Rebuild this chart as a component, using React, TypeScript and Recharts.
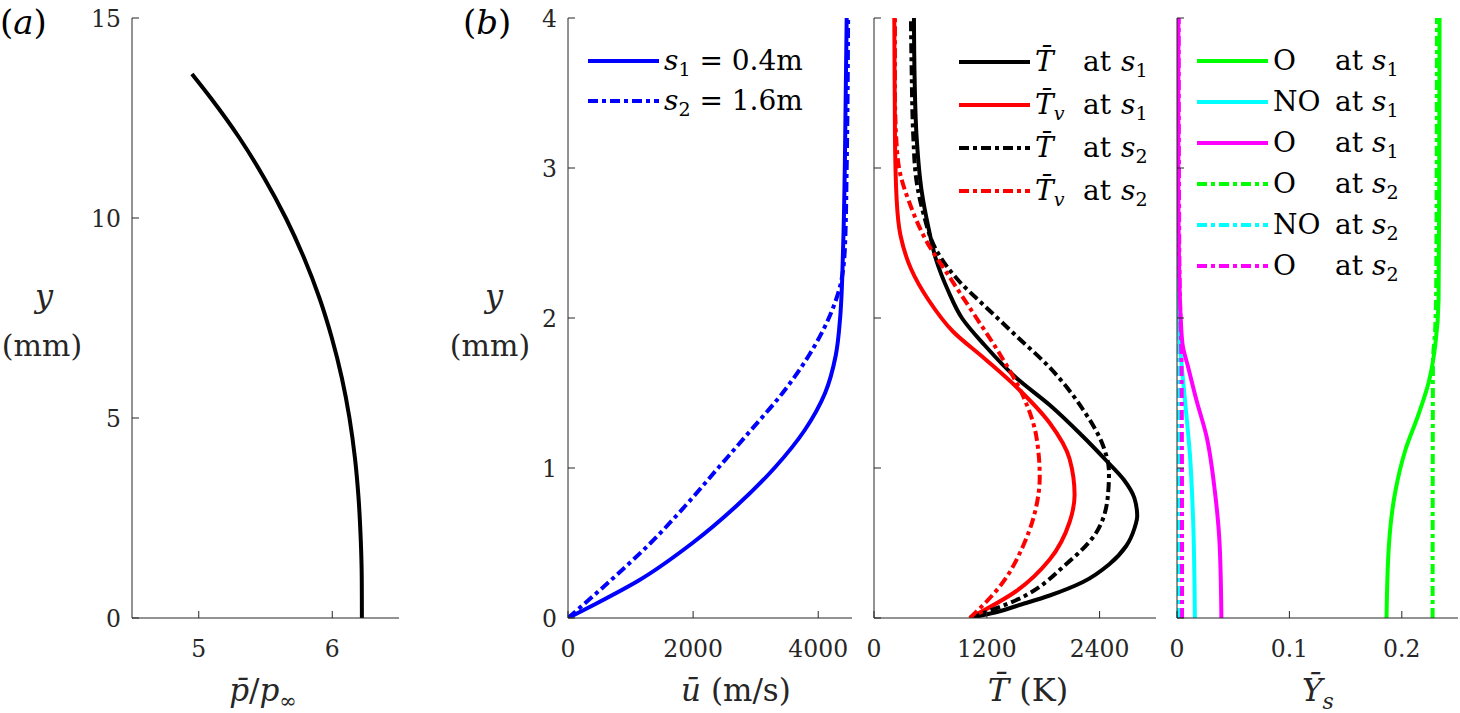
import React from 'react';
import { LineChart, Line, XAxis, YAxis, Legend } from 'recharts';

const FONT = '"DejaVu Serif", serif';
const AXIS = '#262626';
const TICK = 7;
const DASHDOT = '10 4 4 4';
const TICK_FS = 23.5;

// ---------- Panel (a): pressure ratio vs y ----------
const pressureY = [0, 1, 2, 3, 4, 5, 6, 7, 8, 9, 10, 11, 12, 13, 13.6];
const pressureRatio = [6.222, 6.221, 6.213, 6.197, 6.17, 6.129, 6.072, 5.997, 5.904, 5.789, 5.652, 5.49, 5.305, 5.09, 4.949];

// ---------- Panel (b1): velocity ----------
const uS1Y = [0, 0.1, 0.25, 0.5, 0.75, 1.0, 1.25, 1.5, 1.75, 2.0, 2.5, 3.0, 4.0];
const uS1 = [0, 470, 1130, 1990, 2700, 3300, 3780, 4110, 4280, 4350, 4400, 4425, 4455];
const uS2Y = [0, 0.25, 0.5, 0.75, 1.0, 1.25, 1.5, 1.75, 2.0, 2.25, 2.5, 3.0, 4.0];
const uS2 = [0, 680, 1320, 1880, 2400, 2920, 3430, 3850, 4170, 4370, 4430, 4455, 4478];

// ---------- Panel (b2): temperatures ----------
const tS1Y = [0, 0.045, 0.08, 0.15, 0.24, 0.36, 0.48, 0.6, 0.68, 0.8, 0.92, 1.05, 1.21, 1.42, 1.6, 1.82, 2.0, 2.18, 2.39, 2.6, 2.85, 3.21, 3.6, 4.0];
const tS1 = [1020, 1338, 1515, 1869, 2223, 2506, 2683, 2772, 2800, 2770, 2660, 2470, 2223, 1869, 1515, 1175, 935, 790, 660, 580, 506, 453, 432, 425];
const tvS1Y = [0, 0.18, 0.39, 0.64, 0.82, 1.06, 1.3, 1.54, 1.73, 1.91, 2.12, 2.33, 2.55, 2.79, 3.21, 4.0];
const tvS1 = [1020, 1515, 1869, 2081, 2134, 2081, 1869, 1515, 1175, 840, 580, 392, 282, 241, 223, 216];
const tS2Y = [0, 0.12, 0.36, 0.57, 0.82, 0.97, 1.15, 1.39, 1.67, 1.88, 2.09, 2.24, 2.45, 2.7, 2.91, 3.21, 3.67, 4.0];
const tS2 = [1020, 1515, 2046, 2365, 2489, 2500, 2436, 2223, 1869, 1515, 1161, 913, 665, 524, 453, 418, 400, 393];
const tvS2Y = [0, 0.21, 0.48, 0.7, 0.94, 1.21, 1.48, 1.76, 2.0, 2.27, 2.51, 2.76, 2.97, 3.15, 3.51, 4.0];
const tvS2 = [1020, 1338, 1586, 1710, 1763, 1727, 1586, 1338, 1090, 807, 560, 382, 276, 241, 223, 223];

// ---------- Panel (b3): mass fractions ----------
const oS1Y = [0, 0.48, 0.85, 1.12, 1.36, 1.57, 1.82, 2.12, 2.91, 4.0];
const oS1 = [0.1864, 0.1885, 0.1944, 0.2032, 0.215, 0.2239, 0.2298, 0.2327, 0.2333, 0.2336];
const noS1Y = [0, 0.64, 1.09, 1.45, 1.76, 2.0, 2.3, 3.0, 4.0];
const noS1 = [0.0159, 0.0144, 0.0115, 0.0071, 0.0033, 0.0012, 0.0003, 0.0001, 0.0001];
const o2S1Y = [0, 0.48, 0.85, 1.21, 1.45, 1.67, 1.82, 2.0, 2.3, 2.91, 4.0];
const o2S1 = [0.0395, 0.038, 0.0336, 0.0263, 0.0174, 0.01, 0.005, 0.0033, 0.002, 0.0012, 0.0012];
const oS2Y = [0, 1.7, 1.94, 2.3, 4.0];
const oS2 = [0.2274, 0.2277, 0.2298, 0.2307, 0.2313];
const noS2Y = [0, 1.0, 1.8, 2.2, 4.0];
const noS2 = [0.0012, 0.0012, 0.001, 0.0004, 0.0001];
const o2S2Y = [0, 1.0, 1.7, 2.0, 2.5, 4.0];
const o2S2 = [0.0045, 0.0044, 0.004, 0.003, 0.002, 0.0015];

// ---------- axes ----------
const yTicksA = [0, 5, 10, 15];
const xTicksA = [5, 6];
const yTicksB = [0, 1, 2, 3, 4];
const xTicksU = [0, 2000, 4000];
const xTicksT = [0, 1200, 2400];
const xTicksY = [0, 0.1, 0.2];

const toPoints = (xs: number[], ys: number[]) => xs.map((x, i) => ({ x, y: ys[i] }));

type Series = { name: string; xs: number[]; ys: number[]; color: string; dashed: boolean; label?: React.ReactNode };

const Sub = ({ children, italic }: { children: React.ReactNode; italic?: boolean }) => (
  <span style={{ fontSize: '0.68em', position: 'relative', top: '0.32em', fontStyle: italic ? 'italic' : 'normal' }}>{children}</span>
);
const SS = ({ n }: { n: string }) => (
  <span><i>s</i><Sub>{n}</Sub></span>
);
const Col = ({ w, children }: { w: number; children: React.ReactNode }) => (
  <span style={{ display: 'inline-block', width: w }}>{children}</span>
);

const seriesA: Series[] = [
  { name: 'p', xs: pressureRatio, ys: pressureY, color: '#000000', dashed: false },
];

const seriesU: Series[] = [
  { name: 's1 = 0.4m', xs: uS1, ys: uS1Y, color: '#0000ff', dashed: false,
    label: <span><SS n="1" /><span>&nbsp;=&nbsp;0.4m</span></span> },
  { name: 's2 = 1.6m', xs: uS2, ys: uS2Y, color: '#0000ff', dashed: true,
    label: <span><SS n="2" /><span>&nbsp;=&nbsp;1.6m</span></span> },
];

const TBar = () => <i>T&#x0304;</i>;
const TvBar = () => <i>T&#x0304;<Sub italic>v</Sub></i>;

const seriesT: Series[] = [
  { name: 'T at s1', xs: tS1, ys: tS1Y, color: '#000000', dashed: false,
    label: <span><Col w={48}><TBar /></Col><Col w={38}>at</Col><SS n="1" /></span> },
  { name: 'Tv at s1', xs: tvS1, ys: tvS1Y, color: '#ff0000', dashed: false,
    label: <span><Col w={48}><TvBar /></Col><Col w={38}>at</Col><SS n="1" /></span> },
  { name: 'T at s2', xs: tS2, ys: tS2Y, color: '#000000', dashed: true,
    label: <span><Col w={48}><TBar /></Col><Col w={38}>at</Col><SS n="2" /></span> },
  { name: 'Tv at s2', xs: tvS2, ys: tvS2Y, color: '#ff0000', dashed: true,
    label: <span><Col w={48}><TvBar /></Col><Col w={38}>at</Col><SS n="2" /></span> },
];

const spLabel = (sp: string, n: string) => (
  <span><Col w={62}>{sp}</Col><Col w={37}>at</Col><SS n={n} /></span>
);

const seriesY: Series[] = [
  { name: 'O at s1', xs: oS1, ys: oS1Y, color: '#00ff00', dashed: false, label: spLabel('O', '1') },
  { name: 'NO at s1', xs: noS1, ys: noS1Y, color: '#00ffff', dashed: false, label: spLabel('NO', '1') },
  { name: 'O at s1 ', xs: o2S1, ys: o2S1Y, color: '#ff00ff', dashed: false, label: spLabel('O', '1') },
  { name: 'O at s2', xs: oS2, ys: oS2Y, color: '#00ff00', dashed: true, label: spLabel('O', '2') },
  { name: 'NO at s2', xs: noS2, ys: noS2Y, color: '#00ffff', dashed: true, label: spLabel('NO', '2') },
  { name: 'O at s2 ', xs: o2S2, ys: o2S2Y, color: '#ff00ff', dashed: true, label: spLabel('O', '2') },
];

// ---------- ticks ----------
const BottomTick = (props: any) => {
  const { x, y, payload } = props;
  return (
    <g>
      <line x1={x} y1={y} x2={x} y2={y - TICK} stroke={AXIS} strokeWidth={1} />
      <text x={x} y={y + 39} textAnchor="middle" fontFamily={FONT} fontSize={TICK_FS} fill={AXIS}>{String(payload.value)}</text>
    </g>
  );
};
const TopTick = (props: any) => {
  const { x, y } = props;
  return <line x1={x} y1={y} x2={x} y2={y + TICK} stroke={AXIS} strokeWidth={1} />;
};
const LeftTickLabel = (props: any) => {
  const { x, y, payload } = props;
  return (
    <g>
      <line x1={x} y1={y} x2={x + TICK} y2={y} stroke={AXIS} strokeWidth={1} />
      <text x={x - 11} y={y + 8.5} textAnchor="end" fontFamily={FONT} fontSize={TICK_FS} fill={AXIS}>{String(payload.value)}</text>
    </g>
  );
};
const LeftTickBare = (props: any) => {
  const { x, y } = props;
  return <line x1={x} y1={y} x2={x + TICK} y2={y} stroke={AXIS} strokeWidth={1} />;
};
const RightTick = (props: any) => {
  const { x, y } = props;
  return <line x1={x} y1={y} x2={x - TICK} y2={y} stroke={AXIS} strokeWidth={1} />;
};

// ---------- labels ----------
const xLabelA = (p: any) => {
  const vb = p.viewBox;
  return (
    <text x={vb.x + 131} y={vb.y + 83} textAnchor="middle" fontFamily={FONT} fontSize={31} fill={AXIS}>
      <tspan fontStyle="italic">p&#x0304;</tspan><tspan>/</tspan><tspan fontStyle="italic">p</tspan><tspan fontSize={21} dy={7}>∞</tspan>
    </text>
  );
};
const xLabelU = (p: any) => {
  const vb = p.viewBox;
  return (
    <text x={vb.x + 168} y={vb.y + 83} textAnchor="middle" fontFamily={FONT} fontSize={31} fill={AXIS}>
      <tspan fontStyle="italic">ū</tspan><tspan> (m/s)</tspan>
    </text>
  );
};
const xLabelT = (p: any) => {
  const vb = p.viewBox;
  return (
    <text x={vb.x + 154} y={vb.y + 83} textAnchor="middle" fontFamily={FONT} fontSize={32} fill={AXIS}>
      <tspan fontStyle="italic">T&#x0304;</tspan><tspan> (K)</tspan>
    </text>
  );
};
const xLabelY = (p: any) => {
  const vb = p.viewBox;
  return (
    <text x={vb.x + 141} y={vb.y + 83} textAnchor="middle" fontFamily={FONT} fontSize={31} fill={AXIS}>
      <tspan fontStyle="italic">Y&#x0304;</tspan><tspan fontStyle="italic" fontSize={22} dy={8}>s</tspan>
    </text>
  );
};
const yLabelA = (p: any) => {
  const vb = p.viewBox;
  return (
    <g fontFamily={FONT}>
      <text x={vb.x} y={34} fontSize={34} fill="#000">(<tspan fontStyle="italic">a</tspan>)</text>
      <text x={vb.x + 44} y={307} textAnchor="middle" fontSize={32} fontStyle="italic" fill={AXIS}>y</text>
      <text x={vb.x + 42} y={356} textAnchor="middle" fontSize={30} fill={AXIS}>(mm)</text>
    </g>
  );
};
const yLabelB = (p: any) => {
  const vb = p.viewBox;
  return (
    <g fontFamily={FONT}>
      <text x={vb.x + 23} y={34} fontSize={34} fill="#000">(<tspan fontStyle="italic">b</tspan>)</text>
      <text x={vb.x + 54} y={307} textAnchor="middle" fontSize={32} fontStyle="italic" fill={AXIS}>y</text>
      <text x={vb.x + 50} y={356} textAnchor="middle" fontSize={30} fill={AXIS}>(mm)</text>
    </g>
  );
};

const makeLegend = (items: Series[], rowH: number) => () => (
  <div style={{ fontFamily: FONT, fontSize: 28, color: '#000', lineHeight: 1 }}>
    {items.map((it, i) => (
      <div key={i} style={{ display: 'flex', alignItems: 'center', height: rowH, whiteSpace: 'nowrap' }}>
        <svg width={71} height={6} style={{ display: 'block', flex: 'none' }}>
          <line x1={0} y1={3} x2={71} y2={3} stroke={it.color} strokeWidth={4}
            strokeDasharray={it.dashed ? DASHDOT : undefined} />
        </svg>
        <span style={{ marginLeft: 5 }}>{it.label}</span>
      </div>
    ))}
  </div>
);

type PanelProps = {
  left: number; width: number; yAxisWidth: number; marginRight: number;
  xDomain: [number, number]; xTicks: number[]; yDomain: [number, number]; yTicks: number[];
  yTickLabels: boolean; series: Series[]; xLabel: any; yLabel?: any;
  legend?: { left: number; top: number; rowH: number };
};

function Panel(pp: PanelProps) {
  return (
    <div style={{ position: 'absolute', left: pp.left, top: 0 }}>
      <LineChart width={pp.width} height={713} margin={{ top: 18, right: pp.marginRight, bottom: 0, left: 0 }}>
        <XAxis xAxisId="b" type="number" dataKey="x" domain={pp.xDomain} ticks={pp.xTicks} allowDataOverflow
          interval={0} height={95} tickSize={0} tickMargin={0} tick={BottomTick}
          axisLine={{ stroke: AXIS, strokeWidth: 1 }} tickLine={false} label={{ content: pp.xLabel }} />
        <XAxis xAxisId="t" orientation="top" type="number" dataKey="x" domain={pp.xDomain} ticks={pp.xTicks}
          allowDataOverflow interval={0} height={0} tickSize={0} tickMargin={0} tick={TopTick}
          axisLine={{ stroke: AXIS, strokeWidth: 1 }} tickLine={false} />
        <YAxis yAxisId="l" type="number" domain={pp.yDomain} ticks={pp.yTicks} allowDataOverflow interval={0}
          width={pp.yAxisWidth} tickSize={0} tickMargin={0} tick={pp.yTickLabels ? LeftTickLabel : LeftTickBare}
          axisLine={{ stroke: AXIS, strokeWidth: 1 }} tickLine={false}
          label={pp.yLabel ? { content: pp.yLabel } : undefined} />
        <YAxis yAxisId="r" orientation="right" type="number" domain={pp.yDomain} ticks={pp.yTicks} allowDataOverflow
          interval={0} width={0} tickSize={0} tickMargin={0} tick={RightTick}
          axisLine={{ stroke: AXIS, strokeWidth: 1 }} tickLine={false} />
        {pp.series.map((s) => (
          <Line key={s.name} xAxisId="b" yAxisId="l" data={toPoints(s.xs, s.ys)} dataKey="y" name={s.name}
            type="monotoneY" stroke={s.color} strokeWidth={4} strokeLinejoin="round"
            strokeDasharray={s.dashed ? DASHDOT : undefined} dot={false} activeDot={false}
            isAnimationActive={false} />
        ))}
        {pp.legend ? (
          <Legend layout="vertical" align="center" verticalAlign="middle"
            wrapperStyle={{ left: pp.legend.left, top: pp.legend.top, width: 'auto', height: 'auto' }}
            content={makeLegend(pp.series, pp.legend.rowH)} />
        ) : null}
      </LineChart>
    </div>
  );
}

export default function App() {
  return (
    <div style={{ position: 'absolute', left: 0, top: 0, width: 1460, height: 713, background: '#ffffff', overflow: 'hidden' }}>
      <Panel left={0} width={420} yAxisWidth={132} marginRight={21}
        xDomain={[4.5, 6.5]} xTicks={xTicksA} yDomain={[0, 15]} yTicks={yTicksA} yTickLabels
        series={seriesA} xLabel={xLabelA} yLabel={yLabelA} />
      <Panel left={440} width={420} yAxisWidth={128} marginRight={8}
        xDomain={[0, 4540]} xTicks={xTicksU} yDomain={[0, 4]} yTicks={yTicksB} yTickLabels
        series={seriesU} xLabel={xLabelU} yLabel={yLabelB}
        legend={{ left: 148, top: 41, rowH: 40 }} />
      <Panel left={860} width={310} yAxisWidth={14} marginRight={14}
        xDomain={[0, 3000]} xTicks={xTicksT} yDomain={[0, 4]} yTicks={yTicksB} yTickLabels={false}
        series={seriesT} xLabel={xLabelT}
        legend={{ left: 99, top: 40, rowH: 43 }} />
      <Panel left={1165} width={295} yAxisWidth={12} marginRight={2}
        xDomain={[0, 0.25]} xTicks={xTicksY} yDomain={[0, 4]} yTicks={yTicksB} yTickLabels={false}
        series={seriesY} xLabel={xLabelY}
        legend={{ left: 32, top: 40, rowH: 41 }} />
    </div>
  );
}
